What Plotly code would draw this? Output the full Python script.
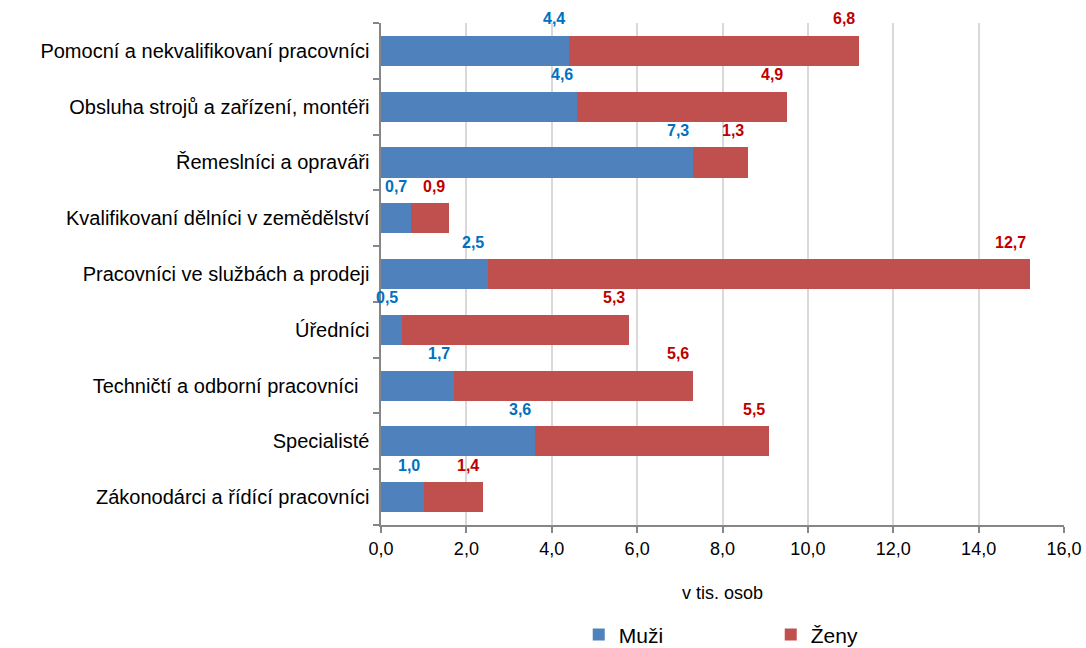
import plotly.graph_objects as go

categories = [
    "Zákonodárci a řídící pracovníci",
    "Specialisté",
    "Techničtí a odborní pracovníci  ",
    "Úředníci",
    "Pracovníci ve službách a prodeji",
    "Kvalifikovaní dělníci v zemědělství",
    "Řemeslníci a opraváři",
    "Obsluha strojů a zařízení, montéři",
    "Pomocní a nekvalifikovaní pracovníci",
]
muzi = [1.0, 3.6, 1.7, 0.5, 2.5, 0.7, 7.3, 4.6, 4.4]
zeny = [1.4, 5.5, 5.6, 5.3, 12.7, 0.9, 1.3, 4.9, 6.8]
tick_vals = [0, 2, 4, 6, 8, 10, 12, 14, 16]
tick_text = ["0,0", "2,0", "4,0", "6,0", "8,0", "10,0", "12,0", "14,0", "16,0"]

BLUE = "#4F81BD"
RED = "#C0504D"
BLUE_T = "#0070C0"
RED_T = "#C00000"
FONT = "Liberation Sans, Arial, sans-serif"

fig = go.Figure()
fig.add_trace(go.Bar(y=categories, x=muzi, orientation="h", name="Muži",
                     marker=dict(color=BLUE, line=dict(width=0))))
fig.add_trace(go.Bar(y=categories, x=zeny, orientation="h", name="Ženy",
                     marker=dict(color=RED, line=dict(width=0))))

def fmt(v):
    return f"{v:.1f}".replace(".", ",")

for cat, m, z in zip(categories, muzi, zeny):
    fig.add_annotation(x=m, y=cat, text=f"<b>{fmt(m)}</b>", showarrow=False,
                       xanchor="right", yanchor="middle", yshift=32, xshift=-2,
                       font=dict(family=FONT, size=16, color=BLUE_T))
    fig.add_annotation(x=m + z, y=cat, text=f"<b>{fmt(z)}</b>", showarrow=False,
                       xanchor="right", yanchor="middle", yshift=32, xshift=-2,
                       font=dict(family=FONT, size=16, color=RED_T))

fig.update_layout(
    barmode="stack",
    bargap=0.46,
    width=1086, height=648,
    margin=dict(l=381, r=22, t=23, b=123, autoexpand=False),
    paper_bgcolor="white", plot_bgcolor="white",
    font=dict(family=FONT, size=18, color="black"),
    showlegend=True,
    legend=dict(orientation="h", traceorder="normal",
                x=0.2895, xanchor="left", y=-0.219, yanchor="middle",
                font=dict(family=FONT, size=21), entrywidth=147, entrywidthmode="pixels",
                itemwidth=30),
    xaxis=dict(range=[0, 16], tickvals=tick_vals, ticktext=tick_text,
               showgrid=True, gridcolor="#D9D9D9", gridwidth=2,
               showline=True, linecolor="#868686", linewidth=2,
               ticks="outside", ticklen=6, tickcolor="#868686", tickwidth=2,
               tickfont=dict(size=18), zeroline=False,
               title=dict(text="v tis. osob", font=dict(size=18), standoff=29)),
    yaxis=dict(showline=True, linecolor="#868686", linewidth=2,
               ticks="outside", ticklen=6, tickcolor="#868686", tickwidth=2,
               tickson="boundaries", tickfont=dict(size=20), ticksuffix=" ",
               range=[-0.5, 8.5]),
)

fig.write_html("out.html",
               config={"displayModeBar": False},
               post_script="document.body.style.margin='0';document.body.style.overflow='hidden';")
